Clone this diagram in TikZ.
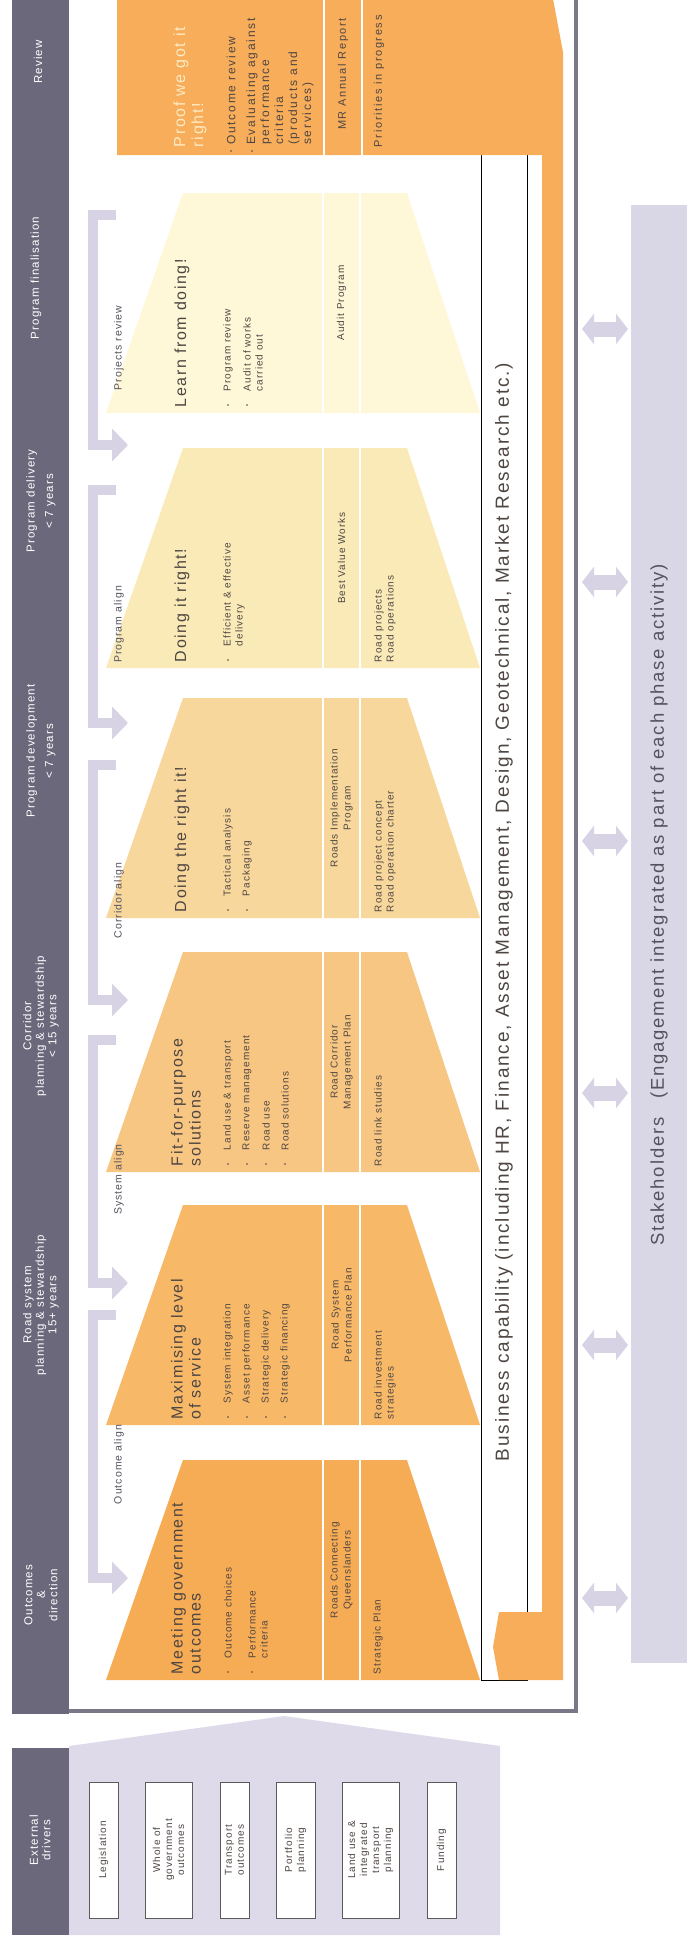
\documentclass[tikz,border=0pt]{standalone}
\usepackage{fontspec}
\setmainfont[LetterSpace=10]{Liberation Sans}
\newfontfamily\widefont[LetterSpace=15]{Liberation Sans}
\usetikzlibrary{arrows.meta}
\definecolor{hdr}{HTML}{6B687C}
\definecolor{framec}{HTML}{7A7888}
\definecolor{lav}{HTML}{D7D3E4}
\definecolor{stake}{HTML}{D9D6E6}
\definecolor{extl}{HTML}{DEDAE9}
\definecolor{orng}{HTML}{F7AD5A}
\definecolor{tA}{HTML}{F6AB55}
\definecolor{tB}{HTML}{F7B868}
\definecolor{tC}{HTML}{F8C683}
\definecolor{tD}{HTML}{F8D79C}
\definecolor{tE}{HTML}{FAEAB8}
\definecolor{tF}{HTML}{FEF8D8}
\definecolor{txt}{HTML}{4E4642}
\definecolor{lbltxt}{HTML}{55525E}
\definecolor{cream}{HTML}{FDEBC3}
\definecolor{boxline}{HTML}{5A5A5A}
% phase funnel: bottom edge at #2, filled with #3
\newcommand\phasefunnel[3]{%
  \fill[#3] (106,#2) -- (480,#2) -- (407,{#2-220}) -- (183,{#2-220}) -- cycle;
  \draw[white, line width=1.5] (323,#2) -- (323,{#2-220});
  \draw[white, line width=1.5] (360,#2) -- (360,{#2-220});
}
\begin{document}
\begin{tikzpicture}[x=1pt,y=-1pt,
  every node/.style={inner sep=0pt, outer sep=0pt, text=txt},
  rot/.style={rotate=90},
  ttl/.style={rot, anchor=west, align=left, font=\fontsize{16}{18}\selectfont},
  bul/.style={rot, anchor=west, align=left, font=\fontsize{10}{12}\selectfont},
  rvbul/.style={rot, anchor=west, align=left, font=\widefont\fontsize{12}{14}\selectfont},
  bdot/.style={circle, fill=txt, minimum size=1.8pt},
  mid/.style={rot, anchor=center, align=center, font=\fontsize{10}{13}\selectfont},
  hdrtxt/.style={rot, align=center, text=white, font=\fontsize{11.5}{12.5}\selectfont},
  lbl/.style={rot, font=\fontsize{10.5}{12}\selectfont, text=lbltxt},
  extbox/.style={rot, draw=boxline, line width=0.9pt, fill=white, align=center,
    minimum width=136pt, font=\fontsize{10}{12}\selectfont},
  dbl/.style={draw=lav, line width=15pt,
    {Triangle[width=30pt,length=12pt]}-{Triangle[width=30pt,length=12pt]}},
  brk/.style={draw=lav, line width=10pt, line join=miter,
    -{Triangle[width=32pt,length=16pt]}},
  big/.style={rot, font=\fontsize{19}{22}\selectfont}
]
\useasboundingbox (0,0) rectangle (695,1940);

% main frame and header bar
\draw[framec, line width=4pt, fill=white] (67,-20) rectangle (576,1711);
\fill[hdr] (12,-20) rectangle (69,1714);

% external drivers
\fill[hdr] (12,1748) rectangle (69,1935);
\fill[extl] (69,1746) -- (284,1716) -- (500,1746) -- (500,1935) -- (69,1935) -- cycle;
\node[hdrtxt] (hext) at (40,1840) {External\\drivers};
\node[extbox, minimum height=29pt] (ed1) at (103.5,1850) {Legislation};
\node[extbox, minimum height=47pt] (ed2) at (168.5,1850) {Whole of\\government\\outcomes};
\node[extbox, minimum height=29pt] (ed3) at (234.5,1850) {Transport\\outcomes};
\node[extbox, minimum height=39pt] (ed4) at (295.5,1850) {Portfolio\\planning};
\node[extbox, minimum height=57pt] (ed5) at (370.5,1850) {Land use \&\\integrated\\transport\\planning};
\node[extbox, minimum height=29pt] (ed6) at (441.5,1850) {Funding};

% header texts
\node[hdrtxt] (h1) at (41,1595) {Outcomes\\\&\\direction};
\node[hdrtxt] (h2) at (41,1305) {Road system\\planning \& stewardship\\15+ years};
\node[hdrtxt] (h3) at (41,1026) {Corridor\\planning \& stewardship\\< 15 years};
\node[hdrtxt] (h4) at (41,751) {Program development\\[6pt]< 7 years};
\node[hdrtxt] (h5) at (41,501) {Program delivery\\[6pt]< 7 years};
\node[hdrtxt] (h6) at (36,278) {Program finalisation};
\node[hdrtxt] (h7) at (38,62) {Review};

% stakeholders
\fill[stake] (631,205) rectangle (687,1663);
\node[rot, font=\fontsize{18.5}{22}\selectfont, text=lbltxt] (stk) at (659,905)
  {Stakeholders\quad(Engagement integrated as part of each phase activity)};
\foreach \yy [count=\i] in {1598,1345,1093,841,582,329}{
  \coordinate (dl\i) at (582,\yy);
  \coordinate (dr\i) at (628,\yy);
  \draw[dbl] (dl\i) -- (dr\i);
}

% business capability box and orange feedback band
\draw[black, line width=0.8pt, fill=white] (481,140) rectangle (527,1680);
\node[big, text=txt] (bc) at (504,912)
  {Business capability (including HR, Finance, Asset Management, Design, Geotechnical, Market Research etc.)};
\fill[orng] (117,-70) -- (540,-70) -- (563,52) -- (563,1680) -- (499,1680) -- (493,1647)
  -- (499,1612) -- (542,1612) -- (542,155) -- (117,155) -- cycle;
\draw[white, line width=1.5] (324,155) -- (324,-70);
\draw[white, line width=1.5] (362,155) -- (362,-70);

% review panel texts
\node[ttl, text=cream] (rv0) at (190,147) {Proof we got it\\right!};
\node[bdot] (rvd1) at (231,151) {};
\node[rvbul] (rv1) at (231,145) {Outcome review};
\node[bdot] (rvd2) at (252,151) {};
\node[rvbul] (rv2) at (280,145) {Evaluating against\\performance\\criteria\\(products and\\services)};
\node[rvbul, font=\widefont\fontsize{11}{13}\selectfont] (rv3) at (343,130) {MR Annual Report};
\node[rvbul, font=\widefont\fontsize{11}{13}\selectfont] (rv4) at (379,147) {Priorities in progress};

% phase funnels
\phasefunnel{A}{1680}{tA}
\phasefunnel{B}{1425}{tB}
\phasefunnel{C}{1172}{tC}
\phasefunnel{D}{918}{tD}
\phasefunnel{E}{668}{tE}
\phasefunnel{F}{413}{tF}

% phase 1
\node[ttl] (p1t) at (186,1674) {Meeting government\\outcomes};
\node[bdot] (p1d1) at (228,1672) {};
\node[bul] (p1b1) at (228,1658) {Outcome choices};
\node[bdot] (p1d2) at (252,1672) {};
\node[bul] (p1b2) at (258,1658) {Performance\\criteria};
\node[mid] (p1m) at (341.5,1570) {Roads Connecting\\Queenslanders};
\node[bul] (p1c) at (378,1674) {Strategic Plan};

% phase 2
\node[ttl] (p2t) at (186,1419) {Maximising level\\of service};
\foreach \xx/\tt [count=\i] in {228/System integration,247/Asset performance,266/Strategic delivery,285/Strategic financing}{
  \node[bdot] (p2d\i) at (\xx,1417) {};
  \node[bul] (p2b\i) at (\xx,1403) {\tt};
}
\node[mid] (p2m) at (341.5,1315) {Road System\\Performance Plan};
\node[bul] (p2c) at (385,1419) {Road investment\\strategies};

% phase 3
\node[ttl] (p3t) at (186,1166) {Fit-for-purpose\\solutions};
\foreach \xx/\tt [count=\i] in {228/Land use \& transport,247/Reserve management,266/Road use,285/Road solutions}{
  \node[bdot] (p3d\i) at (\xx,1164) {};
  \node[bul] (p3b\i) at (\xx,1150) {\tt};
}
\node[mid] (p3m) at (341.5,1062) {Road Corridor\\Management Plan};
\node[bul] (p3c) at (378,1166) {Road link studies};

% phase 4
\node[ttl] (p4t) at (182,912) {Doing the right it!};
\node[bdot] (p4d1) at (228,910) {};
\node[bul] (p4b1) at (228,896) {Tactical analysis};
\node[bdot] (p4d2) at (247,910) {};
\node[bul] (p4b2) at (247,896) {Packaging};
\node[mid] (p4m) at (341.5,808) {Roads Implementation\\Program};
\node[bul] (p4c) at (385,912) {Road project concept\\Road operation charter};

% phase 5
\node[ttl] (p5t) at (182,662) {Doing it right!};
\node[bdot] (p5d1) at (228,660) {};
\node[bul] (p5b1) at (234,646) {Efficient \& effective\\delivery};
\node[mid] (p5m) at (341.5,558) {Best Value Works};
\node[bul] (p5c) at (385,662) {Road projects\\Road operations};

% phase 6
\node[ttl] (p6t) at (182,407) {Learn from doing!};
\node[bdot] (p6d1) at (228,405) {};
\node[bul] (p6b1) at (228,391) {Program review};
\node[bdot] (p6d2) at (247,405) {};
\node[bul] (p6b2) at (253,391) {Audit of works\\carried out};
\node[mid] (p6m) at (341.5,303) {Audit Program};

% alignment arrows between phases
\foreach \ys/\ye/\lab [count=\i] in {1315/1578/Outcome align,1040/1283/System align,765/1000/Corridor align,490/723/Program align,215/445/Projects review}{
  \coordinate (as\i) at (116,\ys);
  \coordinate (ac\i) at (92.5,\ys);
  \coordinate (ad\i) at (92.5,\ye);
  \coordinate (ae\i) at (128,\ye);
  \draw[brk] (as\i) -- (ac\i) -- (ad\i) -- (ae\i);
  \node[lbl] (al\i) at (119,{(\ys+\ye)/2+18}) {\lab};
}
\end{tikzpicture}
\end{document}
